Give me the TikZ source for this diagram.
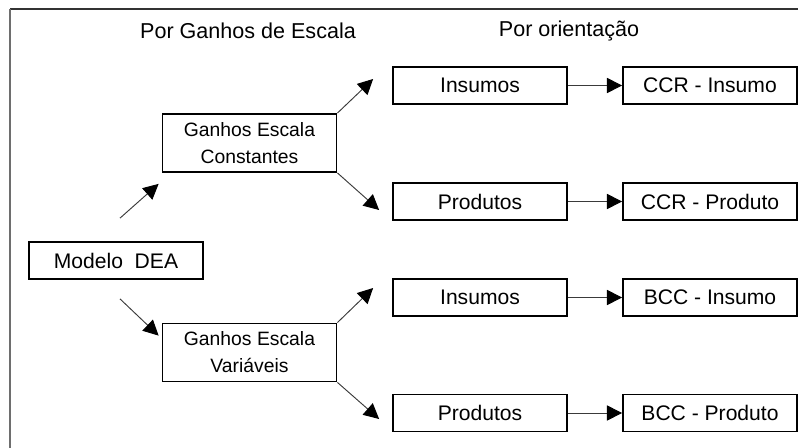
\documentclass[tikz,border=0pt]{standalone}
\usepackage{fontspec}
\setmainfont{Liberation Sans}
\usetikzlibrary{arrows.meta}
\definecolor{framegray}{HTML}{6E6E6E}
\definecolor{arrowgray}{HTML}{3A3A3A}

\tikzset{
  box/.style={draw, line width=1.5pt, minimum width=5.22cm, minimum height=1.11cm,
    inner sep=0pt, font=\fontsize{18pt}{21pt}\selectfont},
  gainbox/.style={box, minimum height=1.74cm, align=center,
    font=\fontsize{16.5pt}{23pt}\selectfont},
  head/.style={inner sep=0pt, font=\fontsize{18.4pt}{21pt}\selectfont},
  link/.style={->, line width=0.8pt, draw=arrowgray},
}

\begin{document}
\begin{tikzpicture}[x=0.03cm, y=-0.03cm, >={Triangle[length=13pt, width=13pt, color=black]}]
  \useasboundingbox (0,0) rectangle (798,448);

  % frame (cut at right and bottom)
  \draw [line width=1.6pt, draw=black!80] (10,9) -- (798,9);
  \draw [line width=1.6pt, draw=framegray] (10,9) -- (10,448);

  \node [head] (hgain) at (248,31) {Por Ganhos de Escala};
  \node [head] (horient) at (569,31) {Por orienta\c{c}\~ao};

  \node [box] (dea) at (116,260.5) {Modelo~~DEA};

  \node [gainbox] (gec) at (249.5,143) {Ganhos Escala\\Constantes};
  \node [gainbox] (gev) at (249.5,352.5) {Ganhos Escala\\Vari\'aveis};

  \node [box] (ins1) at (480,85.5) {Insumos};
  \node [box] (prod1) at (480,201.5) {Produtos};
  \node [box] (ins2) at (480,297.5) {Insumos};
  \node [box] (prod2) at (480,413) {Produtos};

  \node [box] (ccri) at (710,85.5) {CCR - Insumo};
  \node [box] (ccrp) at (710,201.5) {CCR - Produto};
  \node [box] (bcci) at (710,297.5) {BCC - Insumo};
  \node [box] (bccp) at (710,413) {BCC - Produto};

  % scale
  \draw [link] ([shift={(4,-23)}]dea.north) -- ([shift={(-3,11)}]gec.south west);
  \draw [link] ([shift={(4,19)}]dea.south) -- ([shift={(-3,13)}]gev.north west);

  % orientation
  \draw [link] (gec.north east) -- ([shift={(-19,-6.5)}]ins1.west);
  \draw [link] (gec.south east) -- ([shift={(-13,8.5)}]prod1.west);
  \draw [link] (gev.north east) -- ([shift={(-19,-9.5)}]ins2.west);
  \draw [link] (gev.south east) -- ([shift={(-13,6)}]prod2.west);

  \draw [link] (ins1) -- (ccri);
  \draw [link] (prod1) -- (ccrp);
  \draw [link] (ins2) -- (bcci);
  \draw [link] (prod2) -- (bccp);
\end{tikzpicture}
\end{document}
